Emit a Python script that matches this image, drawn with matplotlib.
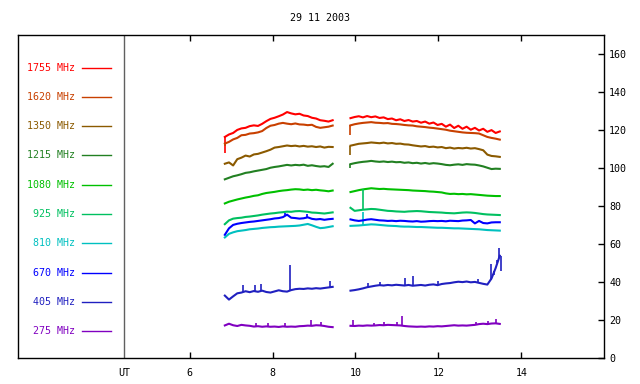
import numpy as np
import matplotlib
matplotlib.use("Agg")
import matplotlib.pyplot as plt

#---------------------DATA------------------------
# UT hours of the two observing runs
t_a = [6.85, 6.95, 7.05, 7.15, 7.25, 7.35, 7.45, 7.55, 7.65, 7.75, 7.85, 7.95, 8.05, 8.15,
       8.25, 8.35, 8.45, 8.55, 8.65, 8.75, 8.85, 8.95, 9.05, 9.15, 9.25, 9.35, 9.45]
t_b = [9.88, 9.98, 10.08, 10.18, 10.28, 10.38, 10.48, 10.58, 10.68, 10.78, 10.88, 10.98,
       11.08, 11.18, 11.28, 11.38, 11.48, 11.58, 11.68, 11.78, 11.88, 11.98, 12.08, 12.18,
       12.28, 12.38, 12.48, 12.58, 12.68, 12.78, 12.88, 12.98, 13.08, 13.18, 13.28, 13.38, 13.48]

f1755_a = [116.5, 117.8, 118.6, 120.2, 121.0, 121.3, 122.2, 122.6, 122.3, 123.4, 124.8, 126.0, 126.6, 127.4,
           128.3, 129.6, 128.9, 128.4, 128.7, 127.8, 127.5, 126.6, 126.2, 125.3, 125.0, 124.6, 125.3]
f1755_b = [126.4, 127.0, 127.4, 126.8, 127.5, 126.9, 127.3, 126.5, 126.8, 125.9, 126.2, 125.3,
           125.8, 124.9, 125.4, 124.6, 124.9, 124.0, 124.6, 123.5, 124.1, 122.8, 123.4, 121.9,
           123.0, 121.2, 122.4, 120.8, 121.9, 120.3, 121.3, 119.9, 120.8, 119.2, 120.1, 118.6, 119.4]

f1620_a = [113.0, 113.9, 115.2, 116.0, 117.4, 117.6, 118.3, 118.5, 118.9, 119.6, 121.2, 122.4, 122.8, 123.5,
           123.9, 123.5, 123.2, 123.6, 123.1, 123.0, 122.7, 122.9, 121.8, 121.3, 121.6, 121.9, 122.5]
f1620_b = [122.6, 123.2, 123.6, 123.9, 124.1, 124.3, 124.0, 123.9, 123.7, 123.8, 123.4, 123.3,
           123.1, 122.8, 122.6, 122.5, 122.1, 121.9, 121.7, 121.4, 121.2, 120.9, 120.6, 120.3,
           119.8, 119.5, 119.2, 118.9, 118.7, 118.6, 118.5, 118.3, 117.4, 116.5, 116.0, 115.6, 115.1]

f1350_a = [102.4, 103.1, 101.5, 104.8, 105.6, 106.7, 106.2, 107.3, 107.6, 108.3, 109.0, 109.8, 110.9, 111.2,
           111.6, 112.0, 111.7, 111.9, 111.5, 111.8, 111.4, 111.6, 111.2, 111.5, 110.9, 111.3, 111.2]
f1350_b = [111.9, 112.4, 112.9, 113.1, 113.3, 113.6, 113.4, 113.2, 113.5, 113.1, 113.3, 112.9,
           113.0, 112.6, 112.5, 112.1, 111.8, 111.5, 111.7, 111.2, 111.4, 111.0, 111.2, 110.6,
           110.9, 110.4, 110.7, 110.5, 110.8, 110.4, 110.6, 110.1, 109.5, 107.2, 106.5, 106.3, 106.0]

f1215_a = [94.2, 95.0, 95.8, 96.3, 96.9, 97.6, 97.9, 98.4, 98.8, 99.2, 99.6, 100.3, 100.7, 101.0,
           101.4, 101.8, 101.5, 101.8, 101.6, 101.9, 101.3, 101.6, 101.2, 100.9, 101.1, 100.7, 102.4]
f1215_b = [102.2, 102.7, 103.1, 103.4, 103.6, 103.9, 103.6, 103.4, 103.6, 103.3, 103.5, 103.2,
           103.3, 102.9, 103.1, 102.7, 102.9, 102.5, 102.8, 102.4, 102.7, 102.5, 102.2, 101.8,
           101.6, 101.9, 102.1, 101.8, 102.2, 102.0, 101.9, 101.5, 101.0, 100.3, 99.6, 99.8, 99.7]

f1080_a = [81.5, 82.4, 83.0, 83.6, 84.1, 84.6, 85.0, 85.5, 85.8, 86.5, 87.0, 87.3, 87.6, 88.0,
           88.3, 88.5, 88.8, 89.0, 88.9, 88.6, 88.8, 88.5, 88.7, 88.4, 88.2, 87.9, 88.3]
f1080_b = [87.5, 88.0, 88.5, 88.9, 89.2, 89.5, 89.3, 89.1, 89.2, 89.0, 88.9, 88.8,
           88.7, 88.6, 88.5, 88.3, 88.2, 88.1, 88.0, 87.8, 87.7, 87.5, 87.3, 86.8,
           86.5, 86.6, 86.4, 86.5, 86.3, 86.4, 86.2, 86.0, 85.8, 85.6, 85.5, 85.4, 85.4]

f925_a = [70.6, 72.6, 73.5, 73.8, 74.0, 74.4, 74.6, 74.9, 75.2, 75.6, 75.9, 76.2, 76.4, 76.7,
          76.9, 77.2, 77.1, 77.4, 77.5, 77.3, 77.1, 76.7, 76.6, 76.4, 76.2, 76.5, 76.8]
f925_b = [79.2, 77.6, 77.9, 78.2, 78.4, 78.6, 78.5, 78.2, 77.9, 77.6, 77.5, 77.3,
          77.2, 77.1, 77.3, 77.4, 77.5, 77.4, 77.2, 77.0, 76.9, 76.8, 76.7, 76.5,
          76.4, 76.3, 76.5, 76.7, 76.8, 76.7, 76.5, 76.2, 75.9, 75.7, 75.6, 75.5, 75.4]

f810_a = [63.6, 65.5, 66.3, 66.9, 67.2, 67.5, 67.9, 68.1, 68.3, 68.6, 68.8, 69.0, 69.1, 69.3,
          69.4, 69.5, 69.6, 69.7, 69.9, 70.3, 70.7, 70.0, 69.2, 68.5, 68.7, 69.1, 69.5]
f810_b = [69.7, 69.8, 69.9, 70.1, 70.3, 70.5, 70.4, 70.2, 70.0, 69.8, 69.7, 69.6,
          69.4, 69.3, 69.3, 69.2, 69.1, 69.1, 69.0, 68.9, 68.8, 68.7, 68.7, 68.6,
          68.5, 68.4, 68.4, 68.3, 68.2, 68.1, 68.0, 67.9, 67.7, 67.5, 67.4, 67.3, 67.2]

f670_a = [65.0, 68.4, 70.2, 70.8, 71.2, 71.5, 71.8, 72.0, 72.3, 72.6, 72.9, 73.2, 73.6, 73.8,
          74.3, 75.6, 74.0, 73.8, 73.5, 73.7, 74.2, 73.4, 73.1, 73.3, 72.9, 73.2, 73.4]
f670_b = [73.1, 72.6, 72.3, 72.6, 73.0, 73.2, 72.9, 72.6, 72.5, 72.3, 72.4, 72.2,
          72.4, 72.3, 72.1, 72.0, 72.2, 71.9, 72.0, 72.2, 72.3, 72.2, 72.3, 72.1,
          72.4, 72.3, 72.2, 72.5, 72.6, 72.8, 71.0, 72.3, 71.2, 71.0, 71.5, 71.6, 71.6]

f405_a = [33.0, 30.9, 32.6, 34.2, 34.6, 35.3, 34.8, 35.4, 35.0, 35.6, 34.9, 34.6, 35.2, 35.8,
          35.3, 35.1, 35.9, 36.4, 36.6, 36.5, 36.8, 36.6, 36.9, 36.7, 37.0, 37.3, 37.6]
f405_b = [35.6, 35.9, 36.3, 36.8, 37.4, 37.8, 38.2, 38.5, 38.3, 38.6, 38.4, 38.7,
          38.5, 38.3, 38.6, 38.2, 38.4, 38.6, 38.3, 38.7, 38.9, 38.5, 39.1, 39.4,
          39.6, 40.0, 40.3, 40.1, 40.4, 40.0, 40.2, 39.7, 39.2, 38.8, 42.0, 47.5, 54.0]

f275_a = [17.3, 18.2, 17.4, 17.0, 17.6, 17.3, 17.1, 16.7, 16.9, 16.6, 16.8, 16.6, 16.7, 16.5,
          16.8, 16.6, 16.7, 16.6, 16.9, 17.0, 17.2, 17.1, 17.4, 17.3, 17.0, 16.6, 16.4]
f275_b = [17.1, 17.0, 17.2, 17.1, 17.3, 17.2, 17.3, 17.5, 17.4, 17.6, 17.5, 17.4,
          17.3, 17.0, 16.8, 16.7, 16.6, 16.7, 16.6, 16.8, 16.7, 16.9, 16.8, 17.0,
          17.2, 17.4, 17.2, 17.3, 17.2, 17.4, 17.6, 18.0, 18.2, 18.0, 18.3, 18.4, 18.1]

# short bursts / dropouts: (UT hour, value)
sp1755 = [(6.85, 108.0)]
sp1620 = [(6.85, 111.5), (9.87, 117.5)]
sp1350 = [(9.87, 107.0)]
sp1215 = [(9.87, 100.0)]
sp1080 = []
sp925 = [(10.17, 89.0)]
sp810 = [(10.17, 77.0)]
sp670 = [(8.30, 76.5), (8.82, 75.8)]
sp405 = [(7.30, 38.5), (7.58, 38.8), (7.72, 39.0), (8.42, 49.1), (9.39, 40.7),
         (10.30, 39.5), (10.60, 40.0), (11.20, 42.4), (11.38, 43.5), (12.00, 40.8),
         (12.95, 41.5), (13.26, 49.5), (13.35, 44.0), (13.42, 52.0), (13.46, 57.9), (13.50, 46.0)]
sp275 = [(7.60, 18.6), (7.90, 18.5), (8.30, 18.6), (8.92, 20.2), (9.18, 19.3),
         (9.93, 20.2), (10.45, 18.8), (10.70, 19.0), (11.00, 19.3), (11.12, 22.3),
         (12.90, 19.2), (13.20, 19.5), (13.40, 20.5)]

freqs = ["1755", "1620", "1350", "1215", "1080", "925", "810", "670", "405", "275"]
colors = ["#ff0000", "#c84000", "#8b5a00", "#228022", "#00c000",
          "#00c060", "#00c0c0", "#0000ff", "#2020c0", "#8000c0"]
series_a = [f1755_a, f1620_a, f1350_a, f1215_a, f1080_a, f925_a, f810_a, f670_a, f405_a, f275_a]
series_b = [f1755_b, f1620_b, f1350_b, f1215_b, f1080_b, f925_b, f810_b, f670_b, f405_b, f275_b]
spikes = [sp1755, sp1620, sp1350, sp1215, sp1080, sp925, sp810, sp670, sp405, sp275]
#-------------------------------------------------

font = "DejaVu Sans Mono"
fs = 7.2
plt.rcParams['font.family'] = font

fig = plt.figure(figsize=(6.4, 3.84), dpi=100)
ax = fig.add_axes([18.3/640, 1-358.3/384, 586/640, 323/384])

for f, c, ya, yb, sp in zip(freqs, colors, series_a, series_b, spikes):
    ax.plot(t_a, ya, color=c, lw=1.5)
    ax.plot(t_b, yb, color=c, lw=1.5)
    for t, v in sp:
        if t < 9.7:
            base = np.interp(t, t_a, ya)
        else:
            base = np.interp(t, t_b, yb)
        ax.vlines(t, base, v, color=c, lw=1.2)

# legend panel on the left
y0 = 0.8997
dy = 0.0906
for i, (f, c) in enumerate(zip(freqs, colors)):
    yy = y0 - i*dy
    ax.text(0.0968, yy, "%s MHz" % f, color=c, fontsize=fs, ha="right", va="center",
            transform=ax.transAxes)
    ax.plot([0.1087, 0.1577], [yy, yy], color=c, lw=1.0, transform=ax.transAxes)

ax.axvline(4.42, color="#606060", lw=1.0)

ax.set_xlim(1.87, 16.0)
ax.set_ylim(0, 170)

ax.set_xticks([4.42, 6, 8, 10, 12, 14])
ax.set_xticklabels(["UT", "6", "8", "10", "12", "14"], fontsize=fs)
ax.tick_params(axis="x", direction="in", length=4, width=1, top=True, pad=7)
ax.xaxis.get_major_ticks()[0].tick1line.set_visible(False)
ax.xaxis.get_major_ticks()[0].tick2line.set_visible(False)

ax.yaxis.tick_right()
ax.set_yticks(range(0, 161, 20))
ax.set_yticklabels([str(v) for v in range(0, 161, 20)], fontsize=fs)
ax.tick_params(axis="y", direction="in", length=4, width=1, pad=3.5)

for s in ax.spines.values():
    s.set_linewidth(1.0)

fig.text(0.5, 1-18/384, "29 11 2003", fontsize=fs, ha="center", va="center")

fig.savefig("out.png", dpi=100)
